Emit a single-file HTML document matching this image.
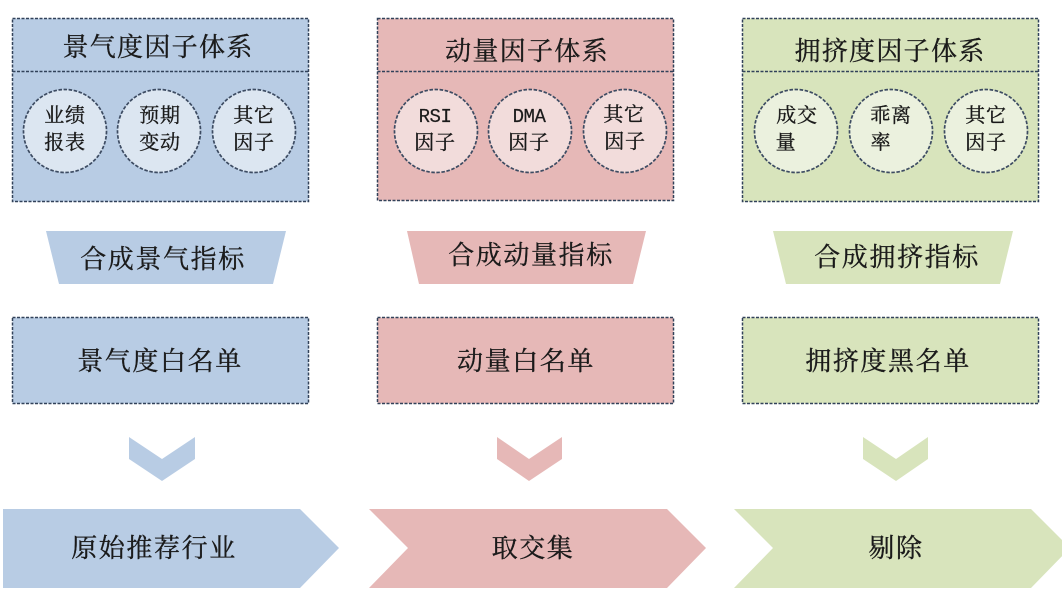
<!DOCTYPE html>
<html lang="zh">
<head>
<meta charset="utf-8">
<style>
html,body{margin:0;padding:0;background:#fff;width:1062px;height:597px;overflow:hidden}
svg{display:block}
text{font-family:"Liberation Serif","Noto Serif CJK SC",serif;fill:#1a1a1a;stroke:#1a1a1a;stroke-width:.35px;text-anchor:middle}
.box{stroke:#33435a;stroke-width:1.5;stroke-dasharray:3 1.5}
.c{stroke:#3c4c62;stroke-width:1.7;stroke-dasharray:3.5 1.6}
.t{font-size:26px;letter-spacing:1.3px}
.l{font-size:26px;letter-spacing:1.6px}
.s{font-size:20px;letter-spacing:.7px}
text.m{font-family:"Liberation Mono",monospace;font-size:19px;letter-spacing:-.5px;stroke-width:.2px}
.g{filter:url(#b)}
</style>
</head>
<body>
<svg width="1062" height="597" viewBox="0 0 1062 597" xmlns="http://www.w3.org/2000/svg">
<defs><filter id="b" x="-5%" y="-5%" width="110%" height="110%"><feGaussianBlur stdDeviation="0.35"/></filter></defs>
<g class="g">
<!-- Left -->
<rect class="box" x="12.5" y="18.5" width="296" height="183" fill="#b8cce4"/>
<line class="box" x1="12.5" y1="71.5" x2="308.5" y2="71.5"/>
<circle class="c" cx="65" cy="131" r="41.5" fill="#dce6f1"/>
<circle class="c" cx="159" cy="131" r="41.5" fill="#dce6f1"/>
<circle class="c" cx="254" cy="131" r="41.5" fill="#dce6f1"/>
<text class="t" x="158" y="56">景气度因子体系</text>
<text class="s" x="65" y="122">业绩</text><text class="s" x="65" y="149">报表</text>
<text class="s" x="160" y="122">预期</text><text class="s" x="160" y="149">变动</text>
<text class="s" x="254" y="122">其它</text><text class="s" x="254" y="149">因子</text>
<polygon points="46,231 286,231 273,284 59,284" fill="#b8cce4"/>
<text class="l" x="163" y="268">合成景气指标</text>
<rect class="box" x="12.5" y="317.5" width="296" height="86" fill="#b8cce4"/>
<text class="l" x="160" y="370">景气度白名单</text>
<polygon points="129,437 162,459 195,437 195,459 162,481 129,459" fill="#b8cce4"/>
<polygon points="3,509 300,509 339,548 300,588 3,588" fill="#b8cce4"/>
<text class="l" x="154" y="557">原始推荐行业</text>

<!-- Middle -->
<rect class="box" x="377.5" y="18.5" width="296" height="182" fill="#e6b8b7"/>
<line class="box" x1="377.5" y1="71.5" x2="673.5" y2="71.5"/>
<circle class="c" cx="436" cy="131" r="41.5" fill="#f2dcdb"/>
<circle class="c" cx="530" cy="131" r="41.5" fill="#f2dcdb"/>
<circle class="c" cx="625" cy="131" r="41.5" fill="#f2dcdb"/>
<text class="t" x="527" y="60">动量因子体系</text>
<text class="m" x="435" y="122">RSI</text><text class="s" x="435" y="149">因子</text>
<text class="m" x="529" y="122">DMA</text><text class="s" x="529" y="149">因子</text>
<text class="s" x="624" y="121">其它</text><text class="s" x="625" y="148">因子</text>
<polygon points="407,231 646,231 633,284 419,284" fill="#e6b8b7"/>
<text class="l" x="531" y="264">合成动量指标</text>
<rect class="box" x="377.5" y="317.5" width="296" height="86" fill="#e6b8b7"/>
<text class="l" x="526" y="370">动量白名单</text>
<polygon points="497,437 529,459 562,437 562,459 529,481 497,459" fill="#e6b8b7"/>
<polygon points="369,509 667,509 706,548 667,588 369,588 408,548" fill="#e6b8b7"/>
<text class="l" x="533" y="557">取交集</text>

<!-- Right -->
<rect class="box" x="742.5" y="18.5" width="296" height="183" fill="#d8e4bc"/>
<line class="box" x1="742.5" y1="71.5" x2="1038.5" y2="71.5"/>
<circle class="c" cx="796" cy="131" r="41.5" fill="#ebf1de"/>
<circle class="c" cx="891" cy="131" r="41.5" fill="#ebf1de"/>
<circle class="c" cx="986" cy="131" r="41.5" fill="#ebf1de"/>
<text class="t" x="890" y="60">拥挤度因子体系</text>
<text class="s" x="797" y="122">成交</text><text class="s" x="786" y="149">量</text>
<text class="s" x="891" y="122">乖离</text><text class="s" x="881" y="149">率</text>
<text class="s" x="986" y="122">其它</text><text class="s" x="986" y="149">因子</text>
<polygon points="773,231 1013,231 1000,284 786,284" fill="#d8e4bc"/>
<text class="l" x="897" y="266">合成拥挤指标</text>
<rect class="box" x="742.5" y="317.5" width="296" height="86" fill="#d8e4bc"/>
<text class="l" x="888" y="370">拥挤度黑名单</text>
<polygon points="863,437 896,459 928,437 928,459 896,481 863,459" fill="#d8e4bc"/>
<polygon points="734,509 1031,509 1070,548 1031,588 734,588 773,548" fill="#d8e4bc"/>
<text class="l" x="896" y="557">剔除</text>
</g>
</svg>
</body>
</html>
